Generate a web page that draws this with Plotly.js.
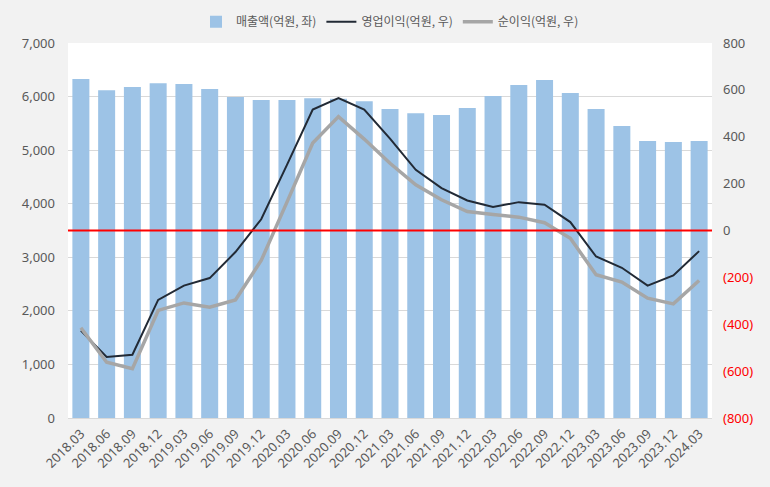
<!DOCTYPE html>
<html>
<head>
<meta charset="utf-8">
<script src="https://cdn.plot.ly/plotly-3.0.1.min.js"></script>
<style>html,body{margin:0;padding:0;background:#f2f2f2;}#chart{width:770px;height:487px;}</style>
</head>
<body>
<div id="chart"></div>
<script>
const categories = ["2018.03","2018.06","2018.09","2018.12","2019.03","2019.06","2019.09","2019.12","2020.03","2020.06","2020.09","2020.12","2021.03","2021.06","2021.09","2021.12","2022.03","2022.06","2022.09","2022.12","2023.03","2023.06","2023.09","2023.12","2024.03"];
const revenue = [6330,6120,6180,6250,6235,6140,5990,5935,5935,5970,5960,5915,5770,5690,5655,5785,6010,6215,6310,6065,5770,5450,5170,5150,5170];
const operatingProfit = [-427,-540,-530,-296,-235,-203,-92,48,280,516,565,516,392,259,181,128,100,121,110,36,-111,-159,-235,-192,-88];
const netProfit = [-415,-562,-590,-341,-309,-327,-296,-128,121,373,486,390,287,195,131,81,68,57,33,-33,-189,-220,-289,-313,-213];
const leftTicks = [0,1000,2000,3000,4000,5000,6000,7000];
const leftTickText = ["0","1,000","2,000","3,000","4,000","5,000","6,000","7,000"];
const rightTicks = [-800,-600,-400,-200,0,200,400,600,800];
const rightTickText = ['<span style="fill:#ff0000">(800)</span>','<span style="fill:#ff0000">(600)</span>','<span style="fill:#ff0000">(400)</span>','<span style="fill:#ff0000">(200)</span>',"0","200","400","600","800"];

const font = "Noto Sans, Noto Sans CJK KR, sans-serif";
const traces = [
  {type:"bar", x:categories, y:revenue, name:"매출액(억원, 좌)", marker:{color:"#9dc3e6"}, yaxis:"y"},
  {type:"scatter", mode:"lines", x:categories, y:operatingProfit, name:"영업이익(억원, 우)", line:{color:"#222a35", width:2}, yaxis:"y2"},
  {type:"scatter", mode:"lines", x:categories, y:netProfit, name:"순이익(억원, 우)", line:{color:"#a6a6a6", width:3.5}, yaxis:"y2"}
];
const layout = {
  width:770, height:487,
  paper_bgcolor:"#f2f2f2", plot_bgcolor:"#ffffff",
  margin:{l:68, r:58, t:43, b:69},
  bargap:0.34,
  font:{family:font, color:"#595959", size:13},
  showlegend:true,
  legend:{orientation:"h", x:0.5, xanchor:"center", yref:"container", y:0.985, yanchor:"top", font:{family:"Noto Sans CJK KR, sans-serif", size:12, color:"#595959"}, traceorder:"normal", bgcolor:"rgba(0,0,0,0)"},
  xaxis:{type:"category", tickangle:-45, tickfont:{size:13, color:"#595959"}, showgrid:false, showline:true, linecolor:"#d9d9d9", linewidth:1, ticks:"", automargin:false, ticklabelstandoff:2},
  yaxis:{range:[0,7000], tickvals:leftTicks, ticktext:leftTickText, showgrid:true, gridcolor:"#d9d9d9", gridwidth:1, zeroline:false, ticks:"", tickfont:{size:13, color:"#595959"}, automargin:false, ticklabelstandoff:12},
  yaxis2:{range:[-800,800], overlaying:"y", side:"right", tickvals:rightTicks, ticktext:rightTickText, showgrid:false, zeroline:false, ticks:"", tickfont:{size:13, color:"#595959"}, automargin:false, ticklabelstandoff:10},
  shapes:[{type:"line", xref:"paper", x0:0, x1:1, yref:"y2", y0:0, y1:0, line:{color:"#ff0000", width:2}, layer:"above"}]
};
Plotly.newPlot("chart", traces, layout, {displayModeBar:false, staticPlot:true});
</script>
</body>
</html>
